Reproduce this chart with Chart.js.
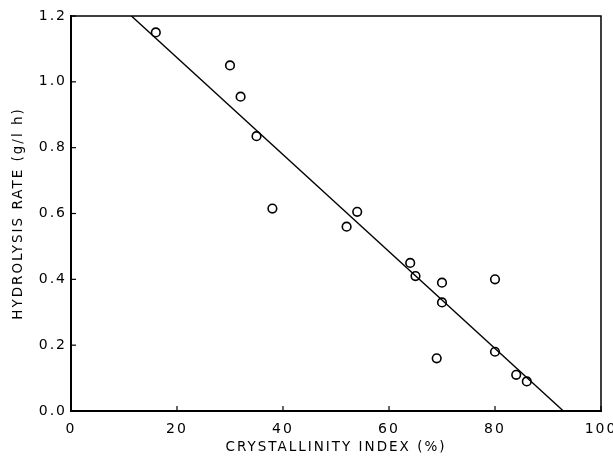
<!DOCTYPE html>
<html>
<head>
<meta charset="utf-8">
<script src="https://cdn.jsdelivr.net/npm/chart.js@4/dist/chart.umd.min.js"></script>
<style>
  html, body { margin: 0; padding: 0; background: #fff; }
  canvas { display: block; }
</style>
</head>
<body>
<canvas id="rate-chart" width="613" height="456"></canvas>
<script>
// measured points: crystallinity index (%) vs hydrolysis rate (g/l h)
const crystallinity = [16, 30, 32, 35, 38, 52, 54, 64, 65, 69, 70, 70, 80, 80, 84, 86];
const hydrolysisRate = [1.15, 1.05, 0.955, 0.835, 0.615, 0.56, 0.605, 0.45, 0.41, 0.16, 0.39, 0.33, 0.40, 0.18, 0.11, 0.09];

// fitted line end points
const fitX = [11.4, 92.9];
const fitY = [1.2, 0.0];

const xTicks = [0, 20, 40, 60, 80, 100];
const yTicks = [0, 0.2, 0.4, 0.6, 0.8, 1.0, 1.2];

const points = crystallinity.map((x, i) => ({ x, y: hydrolysisRate[i] }));
const fitLine = fitX.map((x, i) => ({ x, y: fitY[i] }));

const FONT = "'DejaVu Sans', sans-serif";

// plotter look: spaced letters, frame and inward tick marks
const plotterStyle = {
  id: "plotterStyle",
  beforeDraw(chart) {
    chart.ctx.letterSpacing = "2px";
  },
  afterDraw(chart) {
    const { ctx, chartArea: a, scales } = chart;
    ctx.save();
    ctx.strokeStyle = "#000";
    ctx.lineCap = "square";
    // frame
    ctx.lineWidth = 1.5;
    ctx.beginPath();
    ctx.moveTo(a.left, a.top);
    ctx.lineTo(a.right, a.top);
    ctx.lineTo(a.right, a.bottom);
    ctx.stroke();
    ctx.lineWidth = 2;
    ctx.beginPath();
    ctx.moveTo(a.left, a.top);
    ctx.lineTo(a.left, a.bottom);
    ctx.lineTo(a.right, a.bottom);
    ctx.stroke();
    // inward ticks
    ctx.lineWidth = 1.2;
    ctx.lineCap = "butt";
    scales.x.ticks.forEach((t) => {
      const px = scales.x.getPixelForValue(t.value);
      ctx.beginPath();
      ctx.moveTo(px, a.bottom);
      ctx.lineTo(px, a.bottom - 5);
      ctx.stroke();
    });
    scales.y.ticks.forEach((t) => {
      const py = scales.y.getPixelForValue(t.value);
      ctx.beginPath();
      ctx.moveTo(a.left, py);
      ctx.lineTo(a.left + 5, py);
      ctx.stroke();
    });
    ctx.restore();
  },
};

const canvas = document.getElementById("rate-chart");
new Chart(canvas, {
  type: "scatter",
  data: {
    datasets: [
      {
        data: points,
        pointStyle: "circle",
        pointRadius: 4.3,
        pointBorderWidth: 1.6,
        borderColor: "#000",
        backgroundColor: "rgba(0,0,0,0)",
        showLine: false,
      },
      {
        data: fitLine,
        showLine: true,
        pointRadius: 0,
        borderColor: "#000",
        borderWidth: 1.4,
        fill: false,
      },
    ],
  },
  options: {
    responsive: false,
    animation: false,
    events: [],
    layout: {
      autoPadding: false,
      padding: { left: 0, top: 16, right: 12, bottom: 0 },
    },
    plugins: {
      legend: { display: false },
      tooltip: { enabled: false },
    },
    scales: {
      x: {
        type: "linear",
        min: 0,
        max: 100,
        afterFit: (scale) => {
          scale.height = 45;
          scale.paddingLeft = 0;
          scale.paddingRight = 0;
        },
        afterBuildTicks: (scale) => { scale.ticks = xTicks.map((v) => ({ value: v })); },
        ticks: {
          color: "#000",
          font: { family: FONT, size: 14 },
          padding: 10,
          maxRotation: 0,
        },
        grid: { display: true, drawOnChartArea: false, drawTicks: false },
        border: { display: false },
        title: {
          display: true,
          text: "CRYSTALLINITY INDEX (%)",
          color: "#000",
          font: { family: FONT, size: 13.5 },
          padding: { top: 0, bottom: 0 },
        },
      },
      y: {
        type: "linear",
        min: 0,
        max: 1.2,
        afterFit: (scale) => {
          scale.width = 71;
          scale.paddingTop = 0;
          scale.paddingBottom = 0;
        },
        afterBuildTicks: (scale) => { scale.ticks = yTicks.map((v) => ({ value: v })); },
        ticks: {
          color: "#000",
          font: { family: FONT, size: 14 },
          padding: 4,
          callback: (v) => Number(v).toFixed(1),
        },
        grid: { display: true, drawOnChartArea: false, drawTicks: false },
        border: { display: false },
        title: {
          display: true,
          text: "HYDROLYSIS RATE (g/l h)",
          color: "#000",
          font: { family: FONT, size: 13.5 },
          padding: { top: 10, bottom: 0 },
        },
      },
    },
  },
  plugins: [plotterStyle],
});
</script>
</body>
</html>
